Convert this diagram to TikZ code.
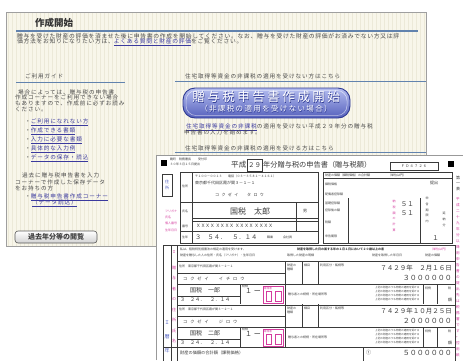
\documentclass[tikz,border=0pt]{standalone}
\usepackage{fontspec}
\setmainfont{Noto Sans CJK JP}
\usetikzlibrary{positioning}

\definecolor{panelbg}{HTML}{F8F6EA}
\definecolor{gridc}{HTML}{ECE9D8}
\definecolor{rulec}{HTML}{6283AE}
\definecolor{linkc}{HTML}{3B3A9E}
\definecolor{bodyc}{HTML}{4A4A4A}
\definecolor{btntop}{HTML}{B4BDF0}
\definecolor{btnbot}{HTML}{5560BC}
\definecolor{btnedge}{HTML}{2F3A92}
\definecolor{magc}{HTML}{D43C9E}
\definecolor{formc}{HTML}{3A3A3A}
\definecolor{bandc}{HTML}{4F5FC0}

\newcommand{\lnk}[1]{\textcolor{linkc}{\underline{#1}}}
\newcommand{\fs}[1]{\fontsize{#1}{#1}\selectfont}

\tikzset{
  body/.style={anchor=west, inner sep=0pt, text=bodyc, font=\fs{5.6}\addfontfeatures{LetterSpace=16}},
  tiny/.style={anchor=west, inner sep=0pt, text=formc, font=\fs{3}},
  magl/.style={anchor=west, inner sep=0pt, text=magc, font=\fs{3}},
  fline/.style={draw=formc, line width=0.45pt},
  thk/.style={draw=formc, line width=0.9pt},
  digit/.style={anchor=east, inner sep=0pt, text=formc, font=\fs{7}},
  btntxt/.style={inner sep=0pt, text=white, font=\fs{12.5}\addfontfeatures{LetterSpace=20}},
}

\begin{document}
\begin{tikzpicture}[x=1pt,y=-1pt]
\useasboundingbox (0,0) rectangle (463,360);
\fill[white] (0,0) rectangle (463,360);

%web page panel
\fill[panelbg] (6,12) rectangle (426,246);
\draw[gridc, line width=0.2pt, step=4] (6,12) grid (426,246);
\draw[gray!75, line width=0.8pt] (6,12) rectangle (426,246);

\node[anchor=west, inner sep=0pt, text=black!80, font=\fs{9.5}\bfseries] (head) at (35,23) {作成開始};
\draw[rulec, line width=1.3pt] (16,31) -- (418,31);
\node[body, font=\fs{5.8}\addfontfeatures{LetterSpace=12}] (lead1) at (17,36) {贈与を受けた財産の評価を済ませた後に申告書の作成を開始してください。なお、贈与を受けた財産の評価がお済みでない方又は評};
\node[body, font=\fs{5.8}\addfontfeatures{LetterSpace=12}] (lead2) at (17,42) {価方法をお知りになりたい方は、\lnk{よくある質問と財産の評価}をご覧ください。};

%left column
\node[body] (guide) at (25,76) {ご利用ガイド};
\draw[rulec, line width=1pt] (16,82) -- (125,82);
\node[body] (g1) at (18,92) {場合によっては、贈与税の申告書};
\node[body] (g2) at (15,97) {作成コーナーをご利用できない場合};
\node[body] (g3) at (15,103) {もありますので、作成前に必ずお読み};
\node[body] (g4) at (15,109) {ください。};
\foreach \t [count=\i] in {ご利用になれない方,作成できる書類,入力に必要な書類,具体的な入力例,データの保存・読込}
  \node[body] (b\i) at (25,113+\i*9) {・\lnk{\t}};
\node[body] (p1) at (22,175) {過去に贈与税申告書を入力};
\node[body] (p2) at (15,182) {コーナーで作成した保存データ};
\node[body] (p3) at (15,188) {をお持ちの方};
\node[body] (p4) at (25,197) {・\lnk{贈与税申告書作成コーナー}};
\node[body] (p5) at (32,203) {\lnk{（データ読込）}};
\shade[top color=white, bottom color=gray!35, rounded corners=3pt] (15,231) rectangle (97,243);
\draw[gray!70!black, line width=0.6pt, rounded corners=3pt] (15,231) rectangle (97,243);
\node[inner sep=0pt, text=black!75, font=\fs{7}\bfseries] (past) at (56,237) {過去年分等の閲覧};

%right column
\node[body] (r1) at (185,76) {住宅取得等資金の非課税の適用を受けない方はこちら};
\draw[rulec, line width=1.2pt] (175,81.5) -- (426,81.5);
\shade[top color=btntop, bottom color=btnbot, rounded corners=12pt] (183,88) rectangle (350,118);
\draw[btnedge, line width=0.9pt, rounded corners=12pt] (183,88) rectangle (350,118);
\draw[white, opacity=0.6, line width=0.5pt, rounded corners=10pt] (186,90.5) rectangle (347,115.5);
\node[btntxt, text=btnedge] (startS) at (266.7,97.7) {贈与税申告書作成開始};
\node[btntxt] (start) at (266,97) {贈与税申告書作成開始};
\node[btntxt, font=\fs{7.5}\addfontfeatures{LetterSpace=18}, text=btnedge] (subS) at (266.5,109.5) {（非課税の適用を受けない場合）};
\node[btntxt, font=\fs{7.5}\addfontfeatures{LetterSpace=18}] (sub) at (266,109) {（非課税の適用を受けない場合）};
\node[body] (r2) at (186,127) {\lnk{住宅取得等資金の非課税}の適用を受けない平成２９年分の贈与税};
\node[body] (r3) at (184,132.5) {申告書の入力を始めます。};
\node[body] (r4) at (185,148) {住宅取得等資金の非課税の適用を受ける方はこちら};
\draw[rulec, line width=1.2pt] (175,152.5) -- (426,152.5);

%form sheet
\fill[white] (156,155) rectangle (463,360);
\draw[gray!80, line width=0.6pt] (156,360) -- (156,155) -- (463,155);

%header
\fill[black] (161,160) rectangle (167,166);
\fill[black] (448,161) rectangle (454,167);
\node[tiny] (hd1) at (170,159) {麹町　税務署長};
\node[tiny] (hd2) at (170,164) {３０年３月１５日提出};
\node[tiny] (hd3) at (198,159) {受付印};
\node[anchor=west, inner sep=0pt, text=formc, font=\fs{7.6}] (ttl1) at (231,165) {平成};
\draw[fline] (247,159) rectangle (262,171);
\node[inner sep=0pt, text=formc, font=\fs{6.5}] (ttl2) at (254.5,165) {２９};
\node[anchor=west, inner sep=0pt, text=formc, font=\fs{7.2}] (ttl3) at (263,165) {年分贈与税の申告書（贈与税額）};
\draw[fline] (390,162) rectangle (438,170);
\node[tiny, anchor=center, font=\fs{3.6}] (code) at (414,166) {Ｆ Ｄ ４ ７ ２ ６};

%upper left block
\draw[fline] (162,174) rectangle (172,196);
\node[inner sep=0pt, text=bandc, font=\fs{4}] (sub1) at (167,185) {\shortstack{住\\所}};
\draw[fline] (180,172) rectangle (318,243);
\draw[fline] (192,172) -- (192,243);
\draw[thk] (180,202) -- (318,202);
\draw[fline] (192,218) -- (318,218);
\draw[fline] (192,221) -- (318,221);
\draw[fline] (180,231) -- (318,231);
\draw[fline] (296,202) -- (296,231);
\node[tiny] (la1) at (182,186) {住所};
\node[tiny] (la2) at (182,211) {氏名};
\node[tiny] (la3) at (182,226) {番号};
\node[tiny] (la4) at (182,237) {生年};
\node[tiny] (a1) at (195,176) {〒１００－００１３　　電話（０３－３５８１－４１６１）};
\node[tiny, font=\fs{4}] (a2) at (195,183) {東京都千代田区霞が関３－１－１};
\node[tiny, font=\fs{4}\addfontfeatures{LetterSpace=60}] (a3) at (215,195) {コクゼイ　タロウ};
\node[inner sep=0pt, text=formc, font=\fs{8}] (name0) at (250,211) {国税　太郎};
\node[tiny, font=\fs{4}] (sex) at (303,211) {男};
\node[tiny, font=\fs{4.6}] (mynum) at (196,226) {ＸＸＸＸ ＸＸＸＸ ＸＸＸＸ ＸＸＸＸ};
\node[tiny, font=\fs{6.2}] (born0) at (195,237) {３　５４．　５．１４};
\node[tiny] (job1) at (267,237) {職業};
\node[tiny] (job2) at (283,237) {会社員};
\foreach \t/\y in {フリガナ/211,氏名/217,個人番号/223,生年月日/230}
  \node[magl] (m\y) at (165,\y) {\t};

%upper right block
\draw[fline] (323,172) rectangle (452,243);
\draw[fline] (323,178) -- (452,178);
\draw[fline] (348,198) -- (348,243);
\draw[fline] (420,198) -- (420,243);
\node[tiny] (c0) at (325,175) {財産の価額（課税価格）の合計額　　　　　　（単位は円）};
\foreach \t/\y in {課税価格/184,配偶者控除額/194,基礎控除額/203,控除後の額/210,税額/222,申告期限/236}
  \node[tiny] (c\y) at (325,\y) {\t};
\node[magl, anchor=north] (v1) at (394,200) {\shortstack{納\\税\\額\\の\\計\\算}};
\node[digit, font=\fs{6.5}] (n51a) at (414,204) {５１};
\node[digit, font=\fs{6.5}] (n51b) at (414,213) {５１};
\node[tiny, anchor=north] (v2) at (427,197) {\shortstack{申\\告\\期\\限\\内}};
\node[tiny, anchor=north] (v3) at (444,212) {\shortstack{延\\納\\分}};
\node[tiny, font=\fs{4}] (v4) at (430,183) {提出};
\node[digit, font=\fs{6.5}] (n1) at (439,238) {１};

%right margin
\node[tiny, anchor=north, font=\fs{4}] (side0) at (458,176) {\shortstack{第\\一\\表}};
\foreach \t [count=\i] in {平,成,二,十,九,年,分,以,降,用,申,告,書,の,提,出,先,は,税,務,署,で,す,。,控,用,紙}
  \node[magl, anchor=center, font=\fs{3.6}] (s\i) at (458,193+\i*6) {\t};

%lower block
\draw[fline] (163,245) rectangle (455,362);
\draw[fline] (171,245) -- (171,362);
\draw[fline] (177,245) -- (177,362);
\draw[fline] (177,261) -- (455,261);
\draw[thk] (177,305) -- (455,305);
\draw[thk] (163,347) -- (455,347);
\node[tiny] (h1) at (180,249) {私は、租税特別措置法の規定の適用を受けます。};
\node[tiny, font=\fs{3}\bfseries] (h2) at (297,249) {財産を取得した日の属する年の１月１日において２０歳以上の者};
\node[magl] (h3) at (430,249) {（単位は円）};
\node[tiny] (h4) at (180,255) {財産を贈与した人の住所・氏名（フリガナ）・生年月日};
\node[tiny] (h5) at (287,255) {取得した財産の明細};
\node[tiny] (h6) at (372,255) {財産を取得した年月日};
\node[tiny] (h7) at (425,255) {財産の価額};
\node[inner sep=0pt, text=magc, font=\fs{4}] (i1) at (174,252) {Ｉ};
\foreach \t [count=\i] in {贈,与,者,の,住,所,氏,名}
  \node[inner sep=0pt, text=magc, font=\fs{4}] (k\i) at (174,257+\i*10.5) {\t};
\foreach \t/\y in {Ｉ/323,暦/337,年/351}
  \node[inner sep=0pt, text=bandc, font=\fs{5}] (band\y) at (167,\y) {\t};

\foreach \p/\yo/\fn/\nm/\dt/\amt in {1/0/イチロウ/一郎/７４２９年　２月１６日/３００００００,2/43/ジロウ/二郎/７４２９年１０月２５日/２００００００}{
  \draw[fline] (177,261+\yo+12) -- (285,261+\yo+12);
  \draw[fline] (177,261+\yo+23) -- (455,261+\yo+23);
  \draw[fline] (177,261+\yo+35) -- (240,261+\yo+35);
  \draw[fline] (285,261+\yo) -- (285,261+\yo+43);
  \draw[fline] (302,261+\yo) -- (302,261+\yo+23);
  \draw[fline] (318,261+\yo) -- (318,261+\yo+23);
  \draw[fline] (240,261+\yo+23) -- (240,261+\yo+43);
  \draw[fline] (423,261+\yo+23) -- (423,261+\yo+43);
  \draw[fline] (437,261+\yo+23) -- (437,261+\yo+43);
  \node[tiny] (ad\p) at (179,261+\yo+5) {住所　東京都千代田区霞が関３－２－１};
  \node[tiny, font=\fs{4.2}\addfontfeatures{LetterSpace=70}] (fu\p) at (183,261+\yo+18) {コクゼイ　\fn};
  \node[tiny, font=\fs{6}] (nm\p) at (190,261+\yo+29) {国税　\nm};
  \node[tiny, font=\fs{5}] (bd\p) at (180,261+\yo+39) {３　２４．　２．１４};
  \node[tiny] (zk\p) at (242,261+\yo+25) {続柄};
  \node[tiny, font=\fs{7}] (one\p) at (245,261+\yo+30) {１ ー};
  \draw[magc, line width=0.4pt] (263,261+\yo+25) rectangle (283,261+\yo+42);
  \draw[magc, line width=0.3pt] (266,261+\yo+30) rectangle (271,261+\yo+40);
  \draw[magc, line width=0.3pt] (275,261+\yo+30) rectangle (281,261+\yo+40);
  \node[magl, font=\fs{2.6}] (st\p) at (264,261+\yo+27.5) {取得者};
  \node[tiny] (ka\p) at (287,261+\yo+4) {財産の};
  \node[tiny] (kb\p) at (287,261+\yo+8) {種類};
  \node[tiny] (kc\p) at (304,261+\yo+4) {細目};
  \node[tiny] (kd\p) at (320,261+\yo+4) {利用区分・銘柄等};
  \node[tiny, font=\fs{6.5}, anchor=east] (dt\p) at (452,261+\yo+7) {\dt};
  \node[digit] (am\p) at (452,261+\yo+17) {\amt};
  \node[tiny] (ke\p) at (288,261+\yo+33) {贈与者との続柄・所在場所等};
  \foreach \j in {0,1,2,3}
    \node[tiny, font=\fs{2.6}] (kf\p\j) at (375,261+\yo+27+\j*4) {上記の財産のうち特例の適用を受ける};
  \node[tiny] (kg\p) at (425,261+\yo+27) {特例};
  \node[tiny] (kh\p) at (448,261+\yo+27) {税};
  \node[tiny, font=\fs{4}] (ki\p) at (448,261+\yo+39) {額};
}
\node[tiny, font=\fs{4.2}] (tot) at (180,353) {財産の価額の合計額（課税価格）};
\draw[fline] (363,347) -- (363,362);
\node[tiny, font=\fs{5}] (c1) at (366,353) {①};
\node[digit] (tamt) at (452,353) {５００００００};
\end{tikzpicture}
\end{document}
